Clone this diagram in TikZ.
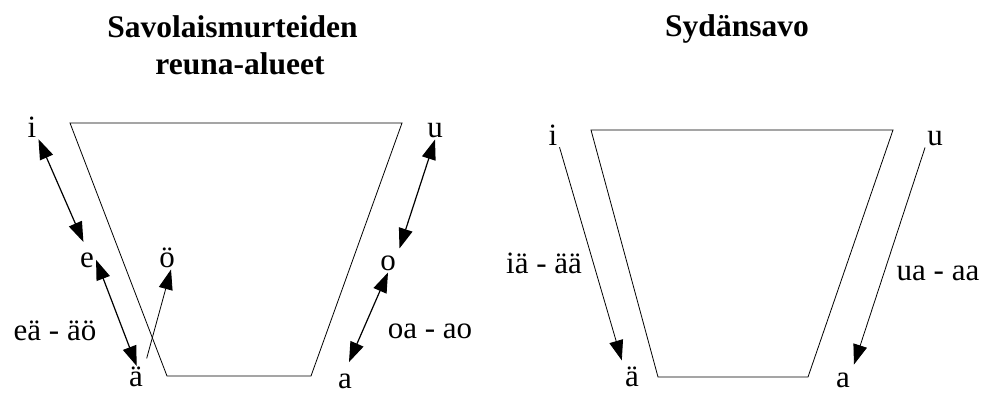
\documentclass[tikz,border=0pt]{standalone}
\usepackage{fontspec}
\setmainfont{Liberation Serif}
\usetikzlibrary{arrows.meta}
\tikzset{
  vowel/.style={font=\fontsize{31}{37}\selectfont, inner sep=2pt, anchor=base},
  heading/.style={font=\bfseries\fontsize{31.5}{37}\selectfont, inner sep=0pt, anchor=base},
  chart/.style={line width=0.8pt, line join=miter},
  shiftarrow/.style={line width=1.2pt, {Triangle[length=20pt,width=14pt]}-{Triangle[length=20pt,width=14pt]}},
  onearrow/.style={line width=0.8pt, -{Triangle[length=20pt,width=14pt]}},
}
\begin{document}
\begin{tikzpicture}[x=1pt,y=-1pt]
  \useasboundingbox (0,0) rectangle (987,393);

  % headings
  \node[heading] (head1) at (232.5,38) {Savolaismurteiden};
  \node[heading] (head2) at (240,75) {reuna-alueet};
  \node[heading] (head3) at (737,37) {Sydänsavo};

  % vowel charts
  \draw[chart] (70,123) -- (402,123) -- (311,376) -- (167,376) -- cycle;
  \draw[chart] (591,130) -- (893,130) -- (808,377) -- (658,377) -- cycle;

  % left chart
  \node[vowel] (i1) at (32,137) {i};
  \node[vowel] (e1) at (87,267) {e};
  \node[vowel] (oe1) at (167,267) {ö};
  \node[vowel] (ae1) at (136,386) {ä};
  \node[vowel] (u1) at (435,137) {u};
  \node[vowel] (o1) at (388,270) {o};
  \node[vowel] (a1) at (345,388) {a};
  \node[vowel] (lab1) at (55,340) {eä - äö};
  \node[vowel] (lab2) at (430,338) {oa - ao};

  \draw[shiftarrow, shorten >=9pt] (i1.south east) -- (e1.north);
  \draw[shiftarrow, shorten >=-2pt] (e1.east) -- (ae1.north);
  \draw[onearrow, shorten <=6pt] (ae1.north east) -- ([xshift=4pt]oe1.south);
  \draw[shiftarrow, shorten >=5pt] (u1.south) -- (o1.north east);
  \draw[shiftarrow, shorten >=10pt] (o1.south) -- (a1.north);

  % right chart
  \node[vowel] (i2) at (553,145) {i};
  \node[vowel] (u2) at (935,145) {u};
  \node[vowel] (ae2) at (632,386) {ä};
  \node[vowel] (a2) at (843,387) {a};
  \node[vowel] (lab3) at (544,273) {iä - ää};
  \node[vowel] (lab4) at (938,280) {ua - aa};

  \draw[onearrow, shorten >=4pt] (i2.south east) -- (ae2.north west);
  \draw[onearrow, shorten >=6pt] (u2.south west) -- (a2.north east);
\end{tikzpicture}
\end{document}
